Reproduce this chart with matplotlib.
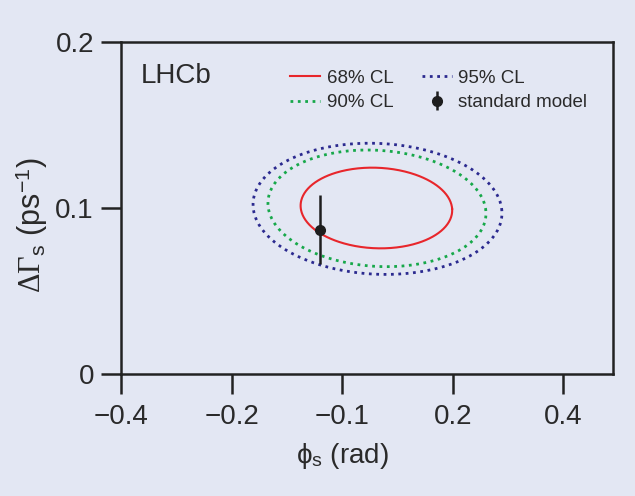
import numpy as np
import matplotlib
matplotlib.use("Agg")
import matplotlib.pyplot as plt

# ---- data ----
cl_labels = ["68% CL", "90% CL", "95% CL"]
cl_colors = ["#e8262b", "#17a84a", "#2b2a8f"]
cl_styles = ["-", ":", ":"]
cl_center_x = [0.062, 0.063, 0.064]
cl_center_y = [0.100, 0.0998, 0.0995]
cl_half_w = [0.137, 0.197, 0.225]
cl_half_h = [0.0243, 0.0351, 0.0395]
cl_shear_x = [0.005, 0.009, 0.008]
cl_shear_y = [0.0005, 0.0015, 0.0012]

sm_x = [-0.04]
sm_y = [0.087]
sm_err = [0.021]

xticks = [-0.4, -0.2, 0.0, 0.2, 0.4]
xtick_labels = ["\u22120.4", "\u22120.2", "\u22120.1", "0.2", "0.4"]
yticks = [0, 0.1, 0.2]
ytick_labels = ["0", "0.1", "0.2"]

bg = "#e3e7f3"
txt = "#2a2a2a"
plt.rcParams['font.family'] = ['Liberation Sans', 'DejaVu Sans']
plt.rcParams['mathtext.fontset'] = 'custom'
plt.rcParams['mathtext.rm'] = 'Liberation Serif'
plt.rcParams['mathtext.it'] = 'Liberation Serif:italic'
plt.rcParams['mathtext.sf'] = 'Liberation Sans'

fig = plt.figure(figsize=(6.35, 4.96), dpi=100, facecolor=bg)
ax = fig.add_axes([121/635, 1-374/496, (613-121)/635, (374-42)/496])
ax.set_facecolor(bg)

t = np.linspace(0, 2*np.pi, 400)
for lab, c, ls, cx, cy, a, b, dx, dy in zip(cl_labels, cl_colors, cl_styles, cl_center_x,
                                             cl_center_y, cl_half_w, cl_half_h, cl_shear_x, cl_shear_y):
    x = cx + a*np.cos(t) - dx*np.sin(t)
    y = cy + b*np.sin(t) - dy*np.cos(t)
    ax.plot(x, y, color=c, ls=ls, lw=2.0 if ls == ':' else 1.5, label=lab)

ax.errorbar(sm_x, sm_y, yerr=sm_err, fmt='o', color='#1e1e1e', ms=7, elinewidth=1.8,
            capsize=0, label="standard model")

ax.set_xlim(-0.4, 0.49)
ax.set_ylim(0, 0.2)
ax.set_xticks(xticks)
ax.set_xticklabels(xtick_labels)
ax.set_yticks(yticks)
ax.set_yticklabels(ytick_labels)
ax.tick_params(direction='out', length=14.5, width=1.8, colors='#222222', labelsize=20,
               labelcolor=txt)
ax.tick_params(axis='x', pad=7)
ax.tick_params(axis='y', pad=5)
for s in ax.spines.values():
    s.set_linewidth(1.8)
    s.set_color('#222222')

ax.set_xlabel("\u03d5$_{\\mathsf{s}}$ (rad)", fontsize=20, color=txt)
ax.xaxis.set_label_coords((342-121)/492, -(441-374)/332)
ax.set_ylabel(r'$\Delta\Gamma_{\mathsf{s}}$ (ps$^{\mathsf{-1}}$)', fontsize=22, color=txt)
ax.yaxis.set_label_coords(-(121-50)/492, (374-225)/332)

ax.text(0.04, (374-76)/332, "LHCb", transform=ax.transAxes, fontsize=20, color=txt,
        va='center', ha='left')

h, l = ax.get_legend_handles_labels()
leg = ax.legend(h, l, ncol=2, loc='upper left',
                bbox_to_anchor=(0.31, 0.968), frameon=False, fontsize=13.5, handlelength=1.6,
                handletextpad=0.35, columnspacing=1.5, labelspacing=0.4, labelcolor=txt)

fig.savefig("out.png", dpi=100, facecolor=bg)
